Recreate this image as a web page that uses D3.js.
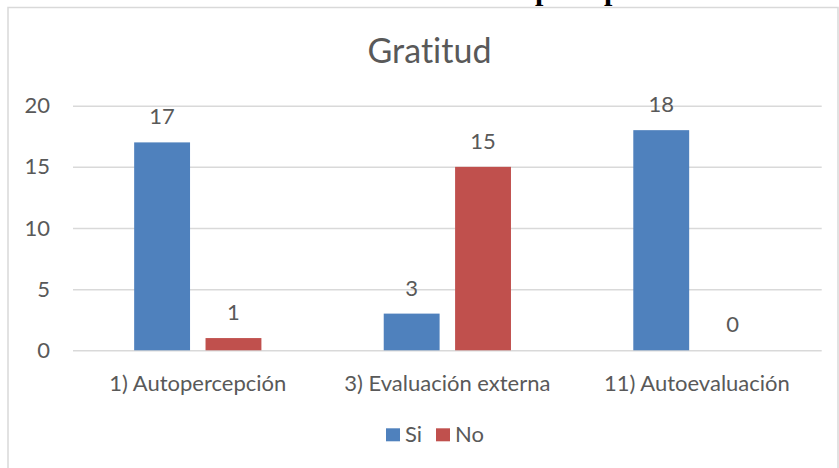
<!DOCTYPE html>
<html>
<head>
<meta charset="utf-8">
<script src="https://cdn.jsdelivr.net/npm/d3@7"></script>
<style>
body { margin: 0; background: #fff; }
svg { display: block; font-family: Lato, "Open Sans", sans-serif; font-variant-ligatures: none; }
</style>
</head>
<body>
<svg id="chart"></svg>
<script>
var categories = ["1) Autopercepción", "3) Evaluación externa", "11) Autoevaluación"];
var seriesNames = ["Si", "No"];
var siValues = [17, 3, 18];
var noValues = [1, 15, 0];
var yTicks = [0, 5, 10, 15, 20];

var width = 839;
var height = 468;
var colors = {"Si": "#4f81bd", "No": "#c0504d"};
var textColor = "#595959";

var svg = d3.select("#chart")
    .attr("width", width)
    .attr("height", height);

// bits of the heading above the chart, cut by the picture edge
var headingBits = [535, 604];
svg.selectAll(".heading")
    .data(headingBits)
    .enter()
    .append("text")
    .attr("class", "heading")
    .attr("x", function(d) { return d; })
    .attr("y", 0)
    .attr("font-family", "'Liberation Serif', serif")
    .attr("font-weight", "bold")
    .attr("font-size", 30)
    .attr("fill", "#000")
    .text("p");

// chart frame
svg.append("rect")
    .attr("x", 8)
    .attr("y", 7.5)
    .attr("width", 830)
    .attr("height", 470)
    .attr("fill", "#fff")
    .attr("stroke", "#d9d9d9")
    .attr("stroke-width", 1.5);

var plotLeft = 73;
var plotRight = 821.7;
var plotTop = 105.7;
var plotBottom = 350.3;

var data = categories.map(function(c, i) {
    return {cat: c, values: [{key: "Si", value: siValues[i]}, {key: "No", value: noValues[i]}]};
});

var x0 = d3.scaleBand()
    .domain(categories)
    .range([plotLeft, plotRight])
    .padding(0);

var x1 = d3.scaleBand()
    .domain(seriesNames)
    .range([0, x0.bandwidth()])
    .paddingInner(0.217)
    .paddingOuter(0.857);

var yScale = d3.scaleLinear()
    .domain([0, 20])
    .range([plotBottom, plotTop]);

var yAxis = svg.append("g")
    .attr("transform", "translate(" + plotLeft + ",0)")
    .call(d3.axisLeft(yScale).tickValues(yTicks).tickSize(-(plotRight - plotLeft)).tickPadding(23));
yAxis.select(".domain").remove();
yAxis.selectAll(".tick line")
    .attr("stroke", "#d9d9d9")
    .attr("stroke-width", 1.5);
yAxis.selectAll(".tick text")
    .attr("fill", textColor)
    .attr("font-family", "Lato, sans-serif")
    .attr("font-size", 22);

var groups = svg.selectAll(".group")
    .data(data)
    .enter()
    .append("g")
    .attr("class", "group")
    .attr("transform", function(d) { return "translate(" + x0(d.cat) + ",0)"; });

groups.selectAll("rect")
    .data(function(d) { return d.values; })
    .enter()
    .append("rect")
    .attr("x", function(d) { return x1(d.key); })
    .attr("y", function(d) { return yScale(d.value); })
    .attr("width", x1.bandwidth())
    .attr("height", function(d) { return plotBottom - yScale(d.value); })
    .attr("fill", function(d) { return colors[d.key]; });

groups.selectAll(".val")
    .data(function(d) { return d.values; })
    .enter()
    .append("text")
    .attr("class", "val")
    .attr("x", function(d) { return x1(d.key) + x1.bandwidth() / 2; })
    .attr("y", function(d) { return yScale(d.value) - 18; })
    .attr("text-anchor", "middle")
    .attr("fill", textColor)
    .attr("font-size", 22)
    .text(function(d) { return d.value; });

svg.selectAll(".cat")
    .data(categories)
    .enter()
    .append("text")
    .attr("class", "cat")
    .attr("x", function(d) { return x0(d) + x0.bandwidth() / 2; })
    .attr("y", 390.7)
    .attr("text-anchor", "middle")
    .attr("fill", textColor)
    .attr("font-size", 22)
    .text(function(d) { return d; });

svg.append("text")
    .attr("x", 429.5)
    .attr("y", 62.7)
    .attr("text-anchor", "middle")
    .attr("fill", textColor)
    .attr("font-size", 34)
    .text("Gratitud");

// legend
var legendX = [386, 436];
var legend = svg.selectAll(".legend")
    .data(seriesNames)
    .enter()
    .append("g")
    .attr("class", "legend")
    .attr("transform", function(d, i) { return "translate(" + legendX[i] + ",428.3)"; });
legend.append("rect")
    .attr("width", 14)
    .attr("height", 13)
    .attr("fill", function(d) { return colors[d]; });
legend.append("text")
    .attr("x", 19)
    .attr("y", 13.4)
    .attr("fill", textColor)
    .attr("font-size", 22)
    .text(function(d) { return d; });
</script>
</body>
</html>
